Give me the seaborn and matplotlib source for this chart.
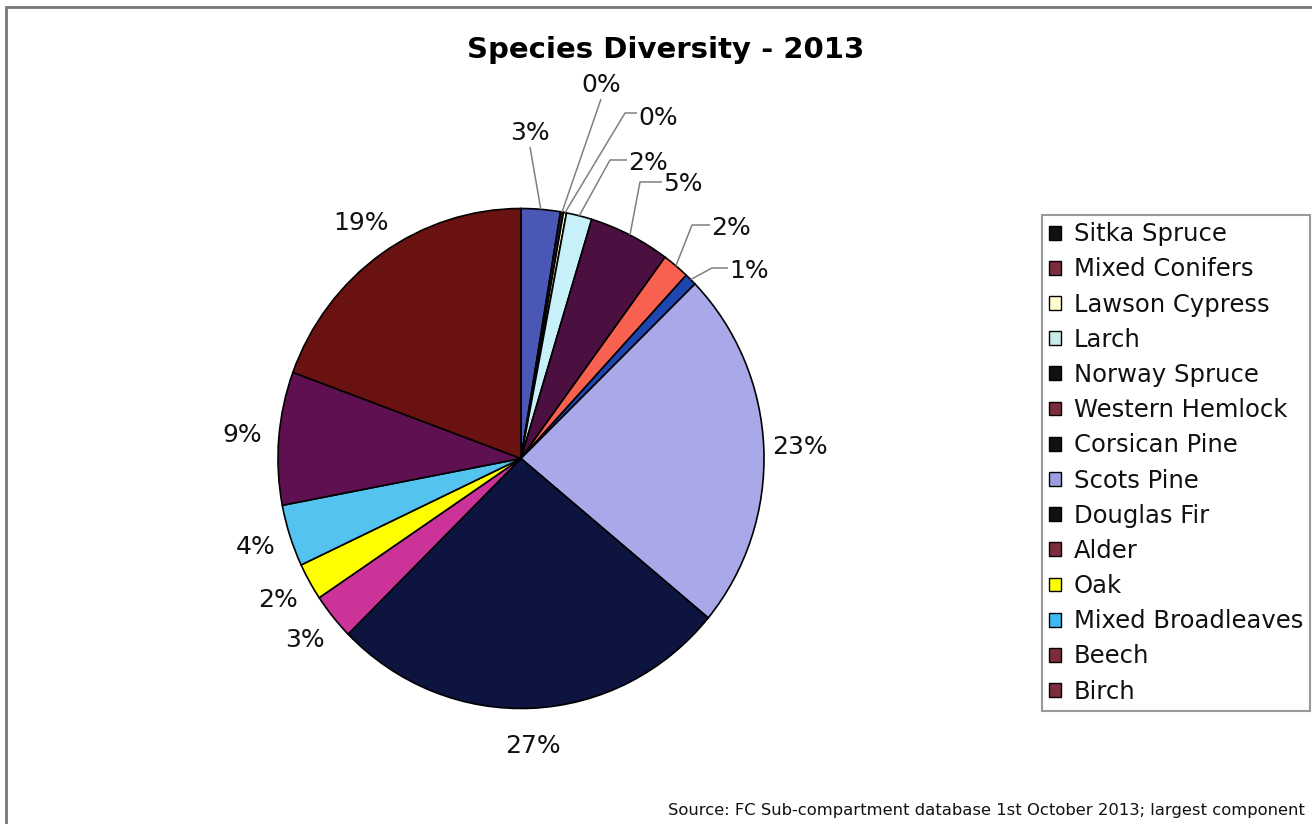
import matplotlib
matplotlib.use('Agg')
import numpy as np
import matplotlib.pyplot as plt
import seaborn as sns
from matplotlib.patches import Patch, Rectangle

# ---------------- data ----------------
species = ['Sitka Spruce', 'Mixed Conifers', 'Lawson Cypress', 'Larch', 'Norway Spruce',
           'Western Hemlock', 'Corsican Pine', 'Scots Pine', 'Douglas Fir', 'Alder',
           'Oak', 'Mixed Broadleaves', 'Beech', 'Birch']
shares = [2.6, 0.2, 0.2, 1.7, 5.4, 1.8, 0.8, 23.3, 26.6, 3.0, 2.4, 4.0, 8.6, 19.4]
slice_colors = ['#4b57b4', '#2a1a3a', '#ffffcc', '#c8f0f8', '#4b1040', '#f86050', '#1f45b0',
                '#a9a9ea', '#0d1440', '#cc3399', '#ffff00', '#55c3ef', '#5f1050', '#6a1212']
legend_colors = ['#111111', '#7b2d3d', '#ffffd0', '#c8ece8', '#111111', '#7b2d3d', '#111111',
                 '#9d9ddf', '#111111', '#7b2d3d', '#ffff00', '#40b8f0', '#7b2d3d', '#7b2d3d']
title = 'Species Diversity - 2013'
source = 'Source: FC Sub-compartment database 1st October 2013; largest component'

# ---------------- style ----------------
sns.set_theme(style='white')
plt.rcParams['font.family'] = ['DejaVu Sans']
palette = sns.color_palette(slice_colors)

W, H = 1312, 824
fig = plt.figure(figsize=(W / 100, H / 100), dpi=100)
fig.patch.set_facecolor('white')

CX, CY, RX, RY = 521, 458.5, 243, 250   # pie centre and radii in pixels (scan is slightly oval)
L = 1.4
ax = fig.add_axes([(CX - L * RX) / W, (H - CY - L * RY) / H, 2 * L * RX / W, 2 * L * RY / H])
wedges, _ = ax.pie(shares, colors=palette, startangle=90, counterclock=False, radius=1,
                   wedgeprops=dict(edgecolor='black', linewidth=1.2))
ax.set_aspect('auto')
ax.set_xlim(-L, L)
ax.set_ylim(-L, L)
ax.axis('off')

total = sum(shares)
pct = [f'{round(100 * s / total):.0f}%' for s in shares]


def P(x, y):
    return ((x - CX) / RX, (CY - y) / RY)


def mid_dir(w):
    a = np.deg2rad((w.theta1 + w.theta2) / 2)
    return np.cos(a), np.sin(a)


LBL = 18
# callout labels for the thin slices at the top
callouts = [
    (0, None, (530, 145), 'center', 'bottom'),
    (1, None, (601, 97), 'center', 'bottom'),
    (2, (625, 113), (638, 118), 'left', 'center'),
    (3, (610, 160), (628, 163), 'left', 'center'),
    (4, (640, 182), (663, 184), 'left', 'center'),
    (5, (692, 225), (711, 228), 'left', 'center'),
    (6, (712, 268), (729, 271), 'left', 'center'),
]
for i, elbow, txt, ha, va in callouts:
    dx, dy = mid_dir(wedges[i])
    pts = [(dx, dy)]
    if elbow is None:
        pts.append(P(txt[0], txt[1] + 2))
    else:
        pts.append(P(*elbow))
        pts.append(P(txt[0] - 1, elbow[1]))
    xs, ys = zip(*pts)
    ax.plot(xs, ys, color='#808080', lw=1.1, solid_capstyle='butt', clip_on=False)
    ax.text(*P(*txt), pct[i], ha=ha, va=va, fontsize=LBL, color='#111111', clip_on=False)

# regular labels
for i in range(7, len(shares)):
    dx, dy = mid_dir(wedges[i])
    ax.text(1.15 * dx, 1.15 * dy, pct[i], ha='center', va='center', fontsize=LBL,
            color='#111111', clip_on=False)

# title
fig.text(666 / W, 1 - 50 / H, title, ha='center', va='center', fontsize=21,
         fontweight='bold', color='black')

# legend
handles = [Patch(facecolor=c, edgecolor='black', linewidth=1.0) for c in legend_colors]
leg = fig.legend(handles, species, loc='upper left', bbox_to_anchor=(1042 / W, 1 - 215 / H),
                 bbox_transform=fig.transFigure, frameon=True, fancybox=False,
                 edgecolor='#808080', fontsize=17.5, handlelength=0.5, handleheight=0.5,
                 handletextpad=0.5, labelspacing=0.46, borderpad=0.3, borderaxespad=0,
                 labelcolor='#111111')
leg.get_frame().set_linewidth(1.5)

# source note
fig.text(668 / W, 1 - 811 / H, source, ha='left', va='center', fontsize=11.8, color='#111111')

# outer chart border
fig.add_artist(Rectangle((6 / W, -0.1), 2.0, (1 - 7 / H) + 0.1, transform=fig.transFigure,
                         fill=False, edgecolor='#777777', linewidth=2))

fig.savefig('out.png', dpi=100, facecolor='white')
